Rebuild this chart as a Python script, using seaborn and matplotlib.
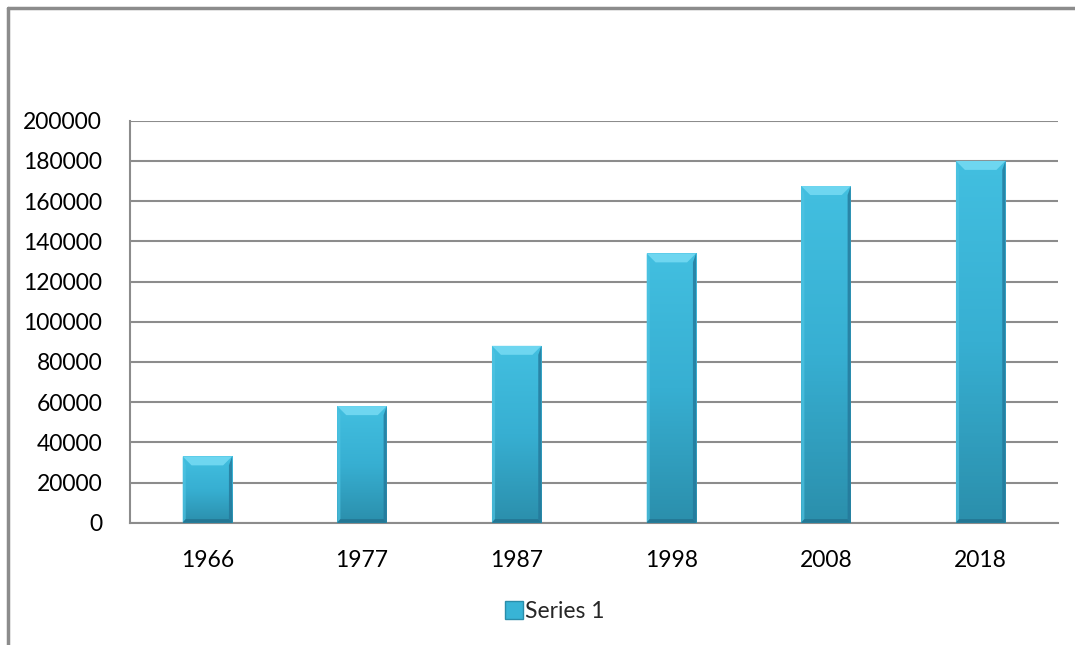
import numpy as np
import pandas as pd
import matplotlib
matplotlib.use("Agg")
import matplotlib.pyplot as plt
import seaborn as sns
from matplotlib.patches import Polygon
from matplotlib.lines import Line2D
from matplotlib.colors import LinearSegmentedColormap

years = ["1966", "1977", "1987", "1998", "2008", "2018"]
values = [33000, 58000, 88000, 134000, 167500, 180000]
series_name = "Series 1"
yticks = [0, 20000, 40000, 60000, 80000, 100000, 120000, 140000, 160000, 180000, 200000]

df = pd.DataFrame({"year": years, "value": values})

sns.set_theme(style="white")
plt.rcParams["font.family"] = ["Lato", "DejaVu Sans"]

fig = plt.figure(figsize=(10.75, 6.45), dpi=100)
ax = fig.add_axes([130 / 1075, (645 - 522.7) / 645, 928 / 1075, 402 / 645])

face = "#38B4D6"
sns.barplot(data=df, x="year", y="value", color=face, width=0.32, ax=ax,
            saturation=1, edgecolor="none", zorder=3)

ax.set_ylim(0, 200000)
ax.set_xlim(-0.5, len(years) - 0.5)
ax.set_yticks(yticks)
ax.set_yticklabels([str(t) for t in yticks])
ax.yaxis.grid(True, color="#8C8C8C", linewidth=1.5, zorder=0)
ax.set_axisbelow(True)
for s in ["top", "right"]:
    ax.spines[s].set_visible(False)
ax.spines["left"].set_color("#8C8C8C")
ax.spines["left"].set_linewidth(1.5)
ax.spines["bottom"].set_color("#8C8C8C")
ax.spines["bottom"].set_linewidth(1.5)
ax.tick_params(axis="both", length=0, labelsize=16.5, colors="black")
ax.tick_params(axis="y", pad=20)
ax.tick_params(axis="x", pad=20)
ax.set_xlabel("")
ax.set_ylabel("")

# bevel effect derived from each drawn bar
fig.canvas.draw()
inv = ax.transData.inverted()
p0 = inv.transform((0, 0))
p1 = inv.transform((9, 9))
bx = p1[0] - p0[0]
by = p1[1] - p0[1]
grad = LinearSegmentedColormap.from_list("g", ["#2B8FAC", "#37AFD2", "#42BFE0"])
for patch in list(ax.patches):
    x, y = patch.get_x(), patch.get_y()
    w, h = patch.get_width(), patch.get_height()
    img = np.linspace(0, 1, 100).reshape(-1, 1)
    im = ax.imshow(img, extent=(x, x + w, y, y + h), origin="lower", aspect="auto",
                   cmap=grad, zorder=3.1)
    im.set_clip_path(patch)
    # top bevel
    ax.add_patch(Polygon([(x, y + h), (x + w, y + h), (x + w - bx, y + h - by), (x + bx, y + h - by)],
                         closed=True, facecolor="#6ED6F0", edgecolor="none", zorder=3.3))
    # left edge
    ax.add_patch(Polygon([(x, y), (x, y + h), (x + bx * 0.35, y + h - by), (x + bx * 0.35, y + by * 0.4)],
                         closed=True, facecolor="#4FC4E2", edgecolor="none", alpha=0.7, zorder=3.2))
    # right edge
    ax.add_patch(Polygon([(x + w, y), (x + w, y + h), (x + w - bx * 0.35, y + h - by), (x + w - bx * 0.35, y + by * 0.4)],
                         closed=True, facecolor="#24789A", edgecolor="none", alpha=0.8, zorder=3.2))
    # bottom edge
    ax.add_patch(Polygon([(x, y), (x + w, y), (x + w - bx * 0.35, y + by * 0.4), (x + bx * 0.35, y + by * 0.4)],
                         closed=True, facecolor="#237592", edgecolor="none", alpha=0.9, zorder=3.2))
    ax.set_xlim(-0.5, len(years) - 0.5)

ax.set_ylim(0, 200000)

handle = Line2D([], [], marker="s", linestyle="none", markersize=12.5,
                markerfacecolor="#38B4D6", markeredgecolor="#2A8DAA")
fig.legend([handle], [series_name], loc="center", bbox_to_anchor=(0.514, 1 - 612 / 645),
           frameon=False, fontsize=16.5, handletextpad=-0.1, handlelength=1.2, borderaxespad=0)

# chart area border (left and top visible)
fig.add_artist(Line2D([7.5 / 1075, 7.5 / 1075], [0, 1 - 8 / 645], color="#8C8C8C", linewidth=2.5,
                      transform=fig.transFigure))
fig.add_artist(Line2D([7.5 / 1075, 1], [1 - 8 / 645, 1 - 8 / 645], color="#8C8C8C", linewidth=2.5,
                      transform=fig.transFigure))

fig.savefig("out.png", dpi=100)
